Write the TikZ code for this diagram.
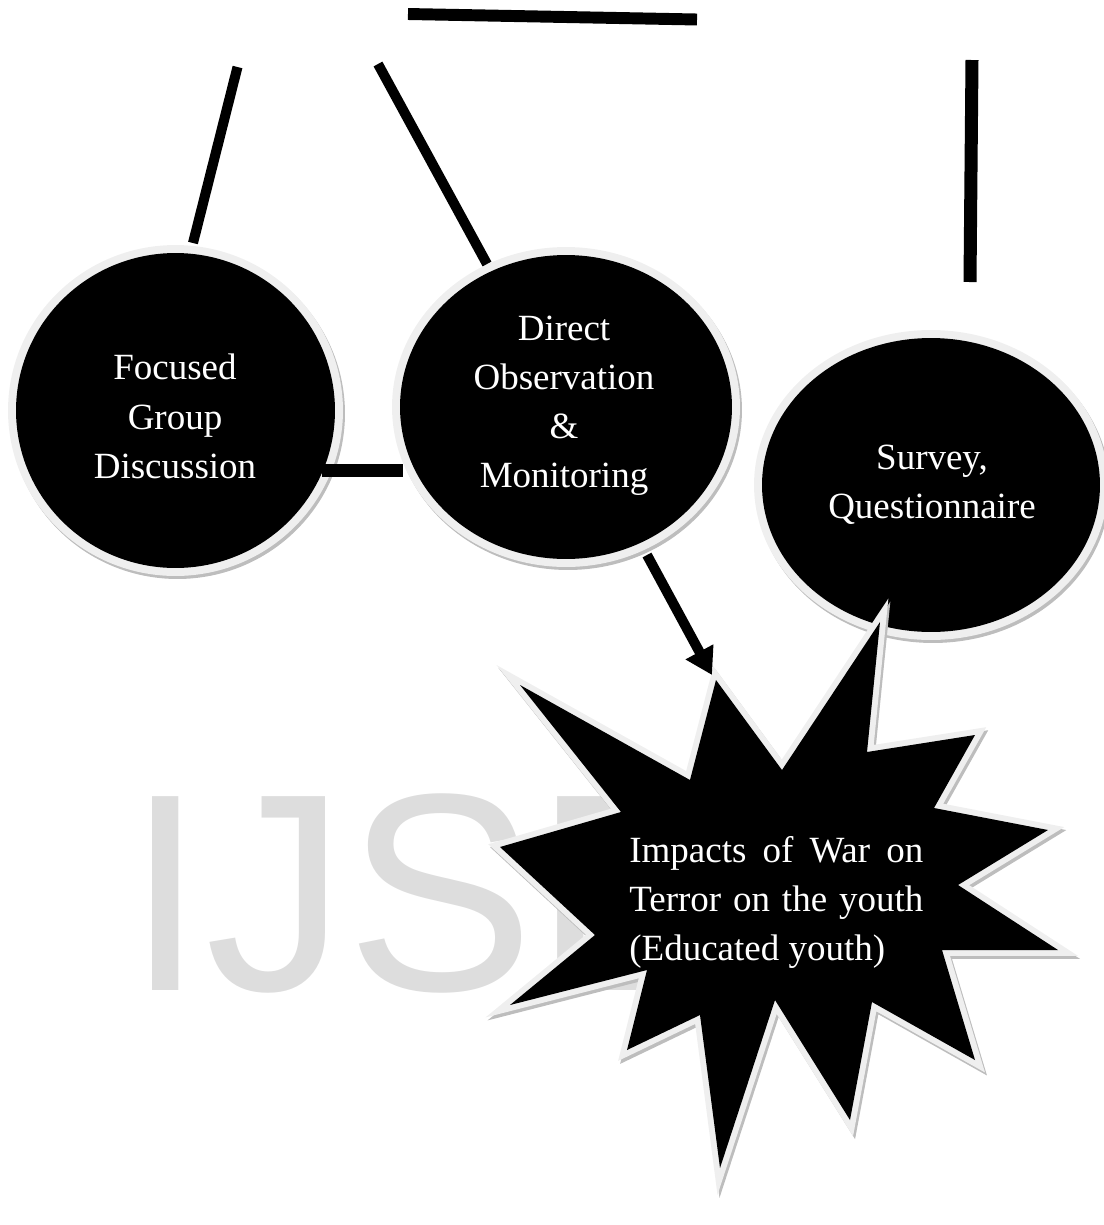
\documentclass[tikz,border=0pt]{standalone}
\usepackage{fontspec}
\setmainfont{Liberation Serif}
\newfontfamily\wmfont{Liberation Sans}
\usetikzlibrary{shapes.geometric,arrows.meta}
\definecolor{ringgray}{HTML}{EFEFEF}
\definecolor{shadegray}{HTML}{BDBDBD}
\definecolor{wmgray}{HTML}{DDDDDD}
\newcommand\mystarpath{(716,680) -- (782,770) -- (880,622) -- (867,752) -- (975,735) -- (934,808) -- (1048,830) -- (958,885) -- (1058,950) -- (942,950) -- (975,1060) -- (872,1002) -- (850,1120) -- (775,1000) -- (720,1168) -- (700,1015) -- (627,1050) -- (647,970) -- (510,1005) -- (595,935) -- (500,847) -- (621,812) -- (520,685) -- (690,780) -- cycle}
\begin{document}
\begin{tikzpicture}[x=0.02cm,y=-0.02cm,
  lbl/.style={text=white, align=center, inner sep=0pt, font=\fontsize{21.05pt}{27.9pt}\selectfont},
  blob/.style={ellipse, fill=black, inner sep=0pt, draw=none},
  ringfill/.style={fill=ringgray},
  shadefill/.style={fill=shadegray},
  bar/.style={line width=#1, line cap=butt, draw=black},
  arr/.style={line width=5.7pt, draw=black, -{Triangle[length=15pt,width=17pt]}},
  wm/.style={text=wmgray, inner sep=0pt, font=\wmfont\fontsize{160.4pt}{170pt}\selectfont}
]
\useasboundingbox (0,0) rectangle (1104,1225);
% watermark
\node[wm, anchor=base west] (wmark) at (126.5,990) {IJSER};
% circle 1
\fill[shadefill] (177.5,413.5) ellipse [x radius=3.35cm, y radius=3.31cm];
\fill[ringfill] (175.5,410.5) ellipse [x radius=3.35cm, y radius=3.31cm];
\node[blob, minimum width=6.38cm, minimum height=6.30cm] (fgd) at (175.5,410.5) {};
% circle 2
\fill[shadefill] (568,410) ellipse [x radius=3.48cm, y radius=3.20cm];
\fill[ringfill] (566,407) ellipse [x radius=3.48cm, y radius=3.20cm];
\node[blob, minimum width=6.64cm, minimum height=6.08cm] (dom) at (566,407) {};
% circle 3
\fill[shadefill] (933,488) ellipse [x radius=3.54cm, y radius=3.10cm];
\fill[ringfill] (931,485) ellipse [x radius=3.54cm, y radius=3.10cm];
\node[blob, minimum width=6.76cm, minimum height=5.88cm] (sq) at (931,485) {};
% texts
\node[lbl] (fgdtxt) at (175,419.2) {\strut Focused\\\strut Group\\\strut Discussion};
\node[lbl] (domtxt) at (564,404.2) {\strut Direct\\\strut Observation\\\strut \&\\\strut Monitoring};
\node[lbl] (sqtxt) at (932,484.2) {\strut Survey,\\\strut Questionnaire};
% lines
\coordinate (t1) at (408,14); \coordinate (t2) at (697,19.5);
\coordinate (a1) at (237.5,67); \coordinate (a2) at (193,243);
\coordinate (b1) at (378,64); \coordinate (b2) at (487,264);
\coordinate (v1) at (972,60); \coordinate (v2) at (970,282);
\coordinate (h1) at (322,470); \coordinate (h2) at (403,470);
\draw[bar=6.8pt] (t1) -- (t2);
\draw[bar=5.7pt] (a1) -- (a2);
\draw[bar=5.7pt] (b1) -- (b2);
\draw[bar=7.4pt] (v1) -- (v2);
\draw[bar=7.4pt] (h1) -- (h2);
% star
\begin{scope}[shift={(2,3)}]
\filldraw[shadegray, line width=6.8pt] \mystarpath;
\end{scope}
\filldraw[ringgray, line width=6.8pt] \mystarpath;
\fill[black] \mystarpath;
\node[lbl, align=left, anchor=west] (imp) at (629,901.7) {\strut\makebox[167.3pt][s]{Impacts of War on}\\\strut\makebox[167.3pt][s]{Terror on the youth}\\\strut (Educated youth)};
% arrow
\coordinate (arrs) at (647,555); \coordinate (arre) at (712,675);
\draw[arr] (arrs) -- (arre);
\end{tikzpicture}
\end{document}
